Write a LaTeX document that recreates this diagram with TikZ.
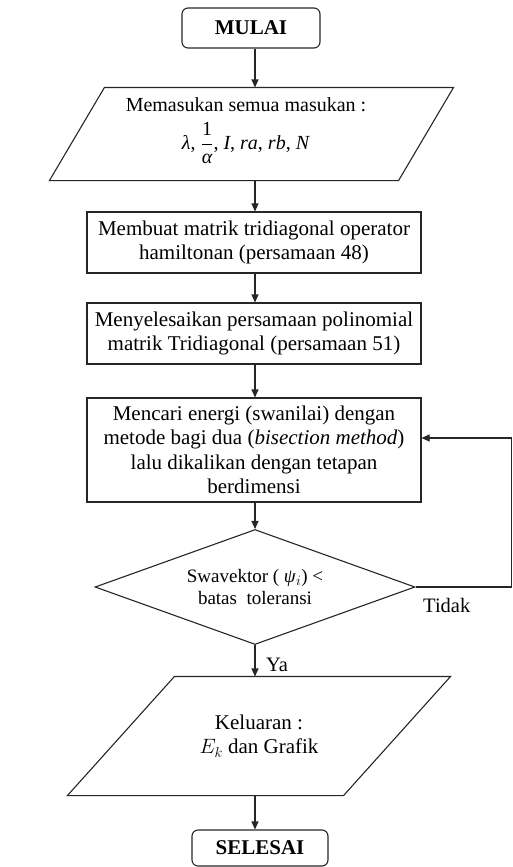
\documentclass[tikz,border=0pt]{standalone}
\usepackage{fontspec}
\setmainfont{Liberation Serif}
\usetikzlibrary{shapes.geometric,arrows.meta,calc}
\begin{document}
\begin{tikzpicture}[x=1pt,y=-1pt,
  line/.style={draw=black!85, line width=1.1pt},
  base/.style={line, align=center, inner sep=0pt, font=\fontsize{21}{24.5}\selectfont},
  procbox/.style={base, rectangle, minimum width=334pt},
  term/.style={base, rectangle, rounded corners=6pt, font=\fontsize{21}{24}\selectfont\bfseries},
  io/.style={base, draw=none},
  iotext/.style={align=center, inner sep=0pt, font=\fontsize{20}{24.5}\selectfont},
  decision/.style={base, diamond, aspect=2.78, font=\fontsize{19}{22}\selectfont},
  lbl/.style={inner sep=0pt, font=\fontsize{20.5}{24}\selectfont},
  arr/.style={line, -{Triangle[length=8pt,width=7pt]}}]
\useasboundingbox (0,0) rectangle (513,867);
\coordinate (ax) at (255,0);
\coordinate (fb) at (511.5,0);

\node[term, minimum width=138pt, minimum height=40pt] (start) at (251,28) {MULAI};

\node[io, minimum width=348pt, minimum height=92pt] (in1) at (251.5,134) {};
\draw[line] ([xshift=-27.5pt]in1.south west) -- ([xshift=27.5pt]in1.north west)
  -- ([xshift=27.5pt]in1.north east) -- ([xshift=-27.5pt]in1.south east) -- cycle;
\node[iotext] (in1t) at (246,131)
  {Memasukan semua masukan :\\[9pt]
   \textit{λ}, $\displaystyle\frac{\mbox{\rmfamily 1}}{\mbox{\itshape α}}$, \textit{I}, \textit{ra}, \textit{rb}, \textit{N}};

\node[procbox, minimum height=61pt] (b2) at (254,242.5)
  {Membuat matrik tridiagonal operator\\ hamiltonan (persamaan 48)};
\node[procbox, minimum height=61pt] (b3) at (254,333.5)
  {Menyelesaikan persamaan polinomial\\ matrik Tridiagonal (persamaan 51)};
\node[procbox, minimum height=104pt] (b4) at (254,450)
  {Mencari energi (swanilai) dengan\\ metode bagi dua (\textit{bisection method})\\ lalu dikalikan dengan tetapan\\ berdimensi};
\coordinate (fbin) at ([yshift=12pt]b4.east);

\node[decision, minimum width=320pt, minimum height=115pt] (dec) at (255,587)
  {Swavektor ( \textit{ψ}$_i$) <\\ batas\ \ toleransi};

\node[io, minimum width=275pt, minimum height=118pt] (in2) at (259,736)
  {Keluaran :\\ $E_k$ dan Grafik};
\draw[line] ([xshift=-53.5pt]in2.south west) -- ([xshift=53.5pt]in2.north west)
  -- ([xshift=53.5pt]in2.north east) -- ([xshift=-53.5pt]in2.south east) -- cycle;

\node[term, minimum width=136pt, minimum height=36pt] (end) at (260,848) {SELESAI};

\draw[arr] (start.south -| ax) -- (in1.north -| ax);
\draw[arr] (in1.south -| ax) -- (b2.north -| ax);
\draw[arr] (b2.south -| ax) -- (b3.north -| ax);
\draw[arr] (b3.south -| ax) -- (b4.north -| ax);
\draw[arr] (b4.south -| ax) -- (dec.north -| ax);
\draw[arr] (dec.south -| ax) -- (in2.north -| ax);
\draw[arr] (in2.south -| ax) -- (end.north -| ax);
\draw[arr] (dec.east) -- (fb |- dec.east) -- (fb |- fbin) -- (fbin);

\node[lbl, anchor=west] (tidak) at (423,605) {Tidak};
\node[lbl, anchor=west] (ya) at (266,665) {Ya};
\end{tikzpicture}
\end{document}
